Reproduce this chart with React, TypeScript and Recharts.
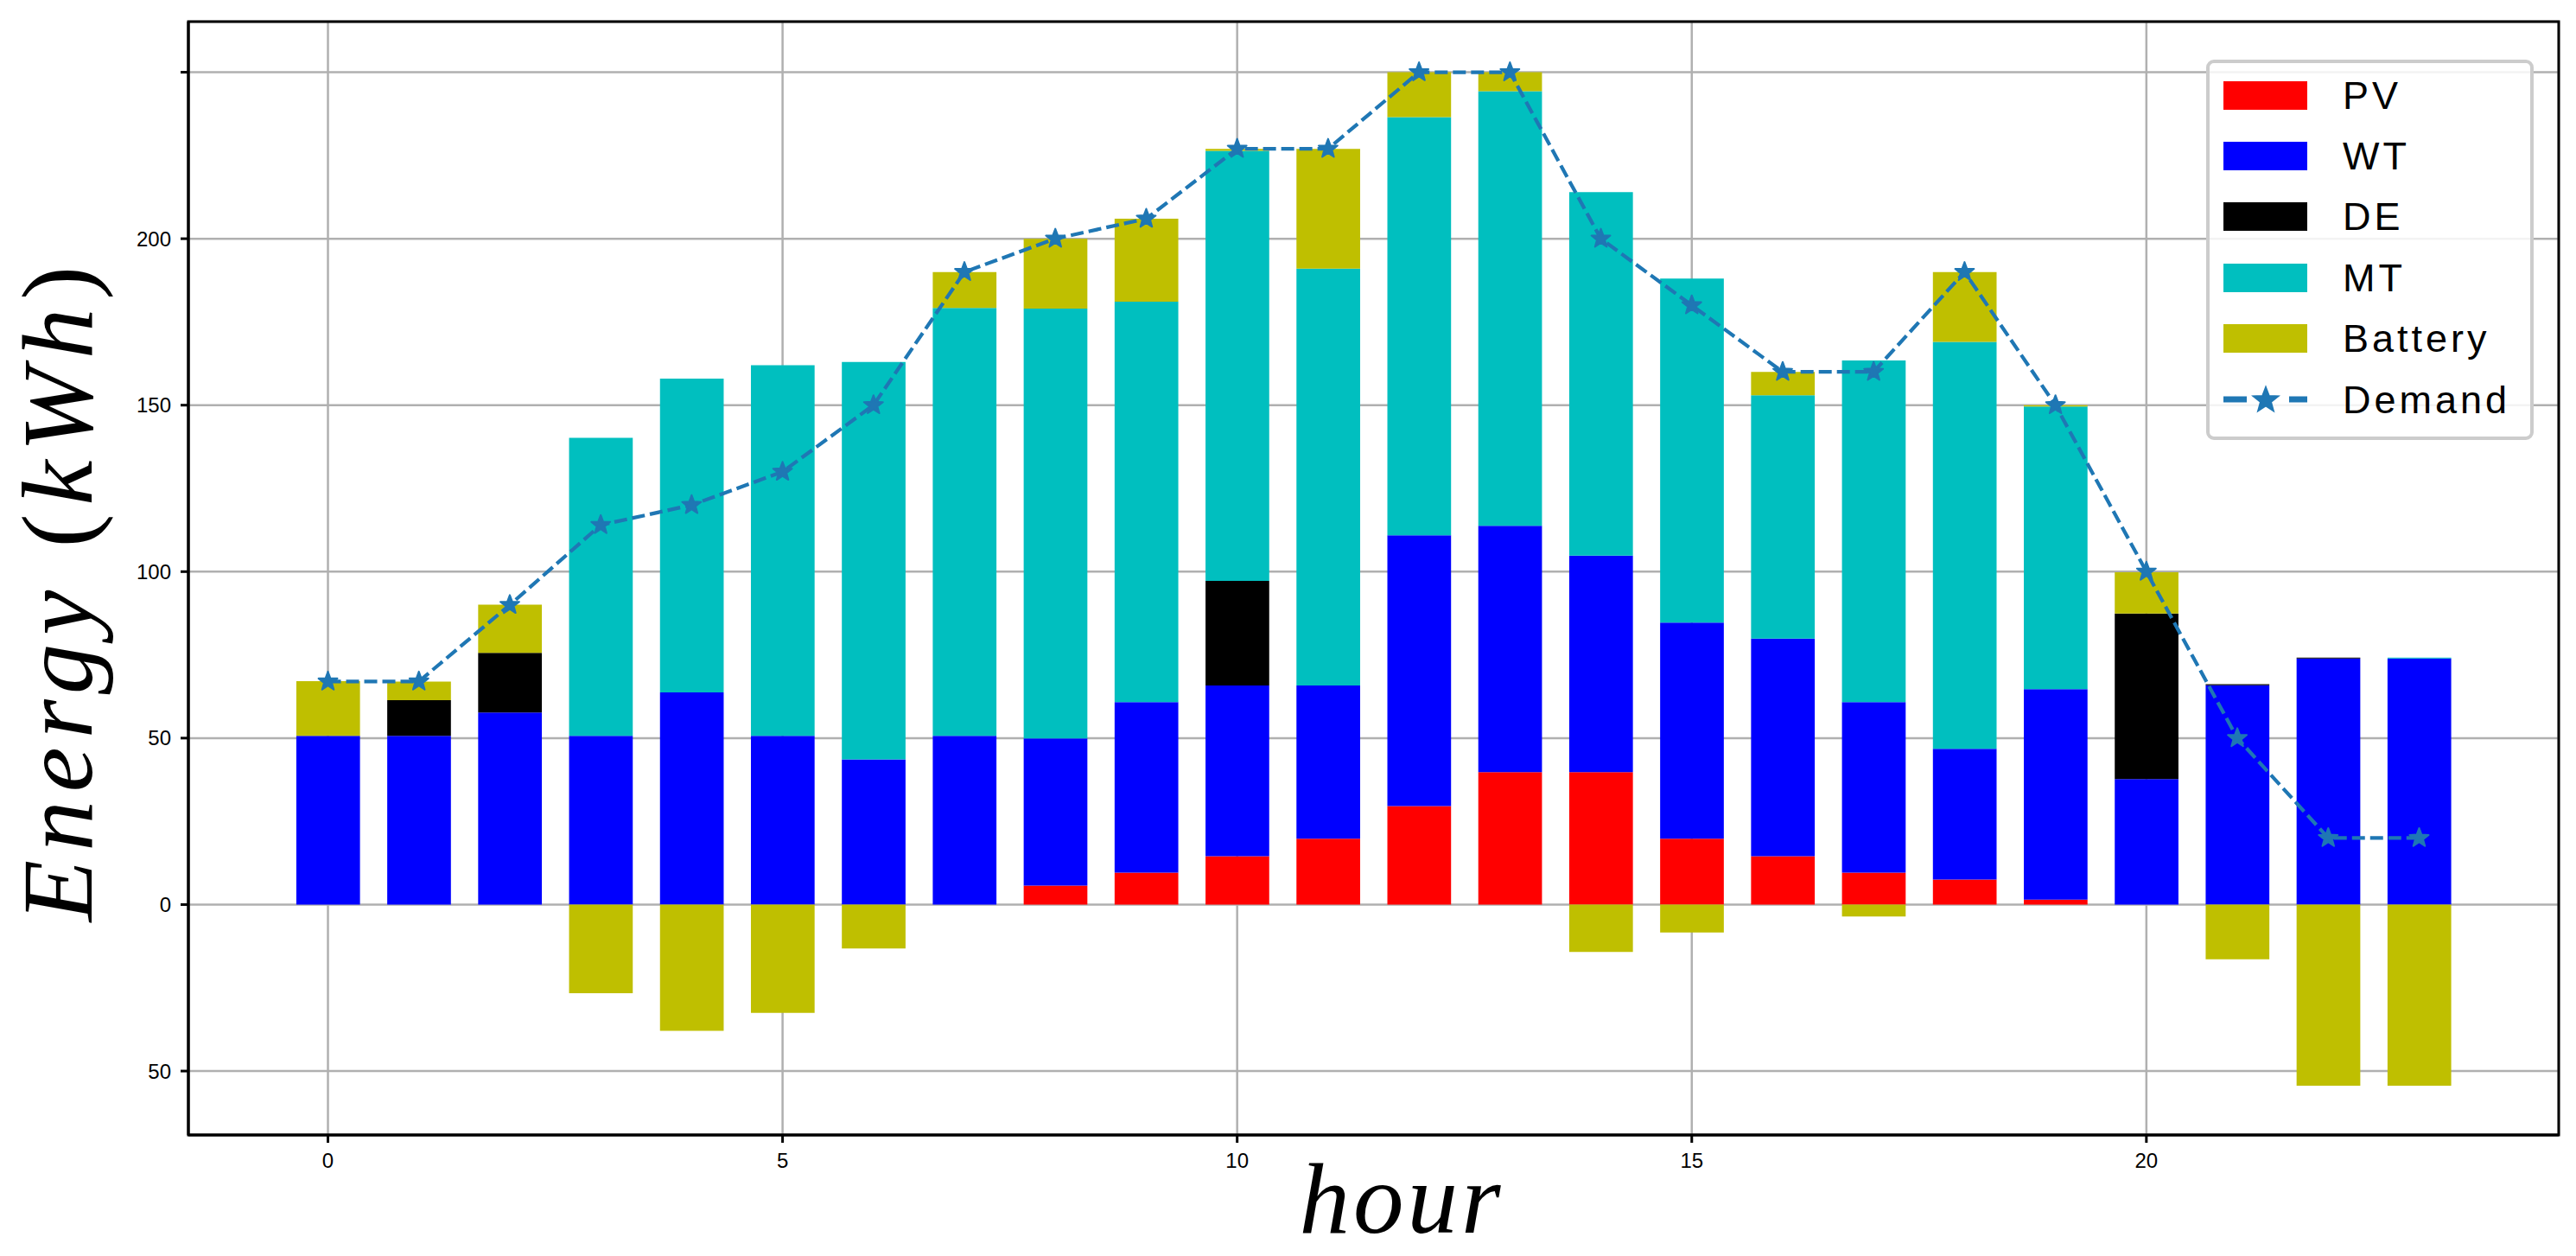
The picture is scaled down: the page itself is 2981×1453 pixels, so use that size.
import React from "react";
import {
  ComposedChart,
  Bar,
  Line,
  XAxis,
  YAxis,
  CartesianGrid,
  Legend,
  ReferenceArea,
} from "recharts";

// hourly energy mix (kWh)
const hours = [0, 1, 2, 3, 4, 5, 6, 7, 8, 9, 10, 11, 12, 13, 14, 15, 16, 17, 18, 19, 20, 21, 22, 23];
const pv = [0, 0, 0, 0, 0, 0, 0, 0, 5.7, 9.6, 14.5, 19.8, 29.6, 39.8, 39.8, 19.8, 14.5, 9.6, 7.5, 1.5, 0, 0, 0, 0];
const wt = [50.7, 50.7, 57.7, 50.7, 63.7, 50.7, 43.6, 50.7, 44.2, 51.2, 51.3, 46, 81.3, 74, 65, 64.9, 65.4, 51.2, 39.3, 63.2, 37.7, 65.9, 73.9, 73.9];
const de = [0, 10.7, 17.9, 0, 0, 0, 0, 0, 0, 0, 31.4, 0, 0, 0, 0, 0, 0, 0, 0, 0, 49.7, 0.3, 0.3, 0];
const mt = [0, 0, 0, 89.5, 94.3, 111.3, 119.4, 128.5, 129.1, 120.3, 129.2, 125.2, 125.6, 130.5, 109.2, 103.3, 73.1, 102.6, 122.2, 84.9, 0, 0, 0, 0.3];
const battery = [16.4, 5.6, 14.5, -26.6, -37.9, -32.5, -13.2, 10.8, 21, 24.9, 0.6, 36, 13.5, 5.7, -14.2, -8.4, 7, -3.6, 21, 0.4, 12.4, -16.4, -54.4, -54.4];
const demand = [67, 67, 90, 114, 120, 130, 150, 190, 200, 206, 227, 227, 250, 250, 200, 180, 160, 160, 190, 150, 100, 50, 20, 20];

const xTicks = [0, 5, 10, 15, 20];
const yTicks = [-50, 0, 50, 100, 150, 200, 250];

const COLORS = {
  PV: "#ff0000",
  WT: "#0000ff",
  DE: "#000000",
  MT: "#00bfbf",
  Battery: "#bfbf00",
  Demand: "#1f77b4",
};

const data = hours.map((h, i) => ({
  hour: h,
  PV: pv[i],
  WT: wt[i],
  DE: de[i],
  MT: mt[i],
  Battery: battery[i],
  Demand: demand[i],
}));

const X_DOMAIN: [number, number] = [-1.535, 24.535];
const Y_DOMAIN: [number, number] = [-69.2, 265.2];

function starPoints(cx: number, cy: number, r: number) {
  const pts: string[] = [];
  for (let k = 0; k < 10; k++) {
    const rr = k % 2 === 0 ? r : r * 0.42;
    const a = -Math.PI / 2 + (k * Math.PI) / 5;
    pts.push(`${cx + rr * Math.cos(a)},${cy + rr * Math.sin(a)}`);
  }
  return pts.join(" ");
}

function StarDot(props: { cx?: number; cy?: number }) {
  const { cx, cy } = props;
  if (cx == null || cy == null) return null;
  return (
    <polygon
      points={starPoints(cx, cy, 11.5)}
      fill={COLORS.Demand}
      stroke={COLORS.Demand}
      strokeWidth={2}
      strokeLinejoin="round"
    />
  );
}

const legendRows = ["PV", "WT", "DE", "MT", "Battery", "Demand"];

function LegendBox() {
  return (
    <div
      style={{
        position: "relative",
        width: 379,
        height: 440,
        boxSizing: "border-box",
        border: "4px solid #cccccc",
        borderRadius: 9,
        background: "rgba(255,255,255,0.85)",
        fontFamily: "'Liberation Sans', Arial, sans-serif",
      }}
    >
      {legendRows.map((name, i) => (
        <div
          key={name}
          style={{
            position: "absolute",
            left: 16,
            top: 37 + i * 70.4 - 25,
            height: 50,
            display: "flex",
            alignItems: "center",
          }}
        >
          {name === "Demand" ? (
            <svg width={97} height={34}>
              <line x1={0} y1={17} x2={27} y2={17} stroke={COLORS.Demand} strokeWidth={7} />
              <line x1={76} y1={17} x2={97} y2={17} stroke={COLORS.Demand} strokeWidth={7} />
              <polygon points={starPoints(49, 18, 15)} fill={COLORS.Demand} stroke={COLORS.Demand} strokeWidth={2} />
            </svg>
          ) : (
            <div style={{ width: 97, height: 33, background: COLORS[name as keyof typeof COLORS] }} />
          )}
          <span
            style={{
              marginLeft: 41,
              fontSize: 45,
              letterSpacing: 4,
              color: "#000",
              lineHeight: 1,
            }}
          >
            {name}
          </span>
        </div>
      ))}
    </div>
  );
}

const renderHourLabel = () => (
  <text
    x={1622}
    y={1426}
    textAnchor="middle"
    fontFamily="'Liberation Serif', 'Times New Roman', serif"
    fontStyle="italic"
    fontSize={117}
    letterSpacing={4}
    fill="#000"
  >
    hour
  </text>
);

const renderEnergyLabel = () => (
  <text
    x={106}
    y={682}
    transform="rotate(-90, 106, 682)"
    textAnchor="middle"
    fontFamily="'Liberation Serif', 'Times New Roman', serif"
    fontStyle="italic"
    fontSize={117}
    letterSpacing={10}
    fill="#000"
  >
    Energy{" "}
    <tspan fontStyle="normal">(</tspan>
    kWh
    <tspan fontStyle="normal">)</tspan>
  </text>
);

const tickStyle = {
  fontSize: 24,
  fill: "#000",
  fontFamily: "'Liberation Sans', Arial, sans-serif",
};

export default function App() {
  return (
    <div style={{ position: "absolute", left: 0, top: 0, width: 2981, height: 1453, background: "#fff" }}>
      <ComposedChart
        width={2981}
        height={1453}
        data={data}
        stackOffset="sign"
        margin={{ top: 25, right: 20, bottom: 80, left: 118 }}
      >
        <XAxis
          dataKey="hour"
          type="number"
          domain={X_DOMAIN}
          ticks={xTicks}
          interval={0}
          allowDataOverflow
          height={60}
          tickSize={9}
          tickMargin={12}
          axisLine={{ stroke: "#000", strokeWidth: 3 }}
          tickLine={{ stroke: "#000", strokeWidth: 3 }}
          tick={tickStyle}
          label={renderHourLabel}
        />
        <YAxis
          type="number"
          domain={Y_DOMAIN}
          ticks={yTicks}
          interval={0}
          allowDataOverflow
          width={100}
          tickSize={9}
          tickMargin={11}
          tickFormatter={(v: number) => (v === 250 ? "" : String(Math.abs(v)))}
          axisLine={{ stroke: "#000", strokeWidth: 3 }}
          tickLine={{ stroke: "#000", strokeWidth: 3 }}
          tick={tickStyle}
          label={renderEnergyLabel}
        />
        <Bar dataKey="PV" stackId="mix" fill={COLORS.PV} barSize={73.7} isAnimationActive={false} />
        <Bar dataKey="WT" stackId="mix" fill={COLORS.WT} barSize={73.7} isAnimationActive={false} />
        <Bar dataKey="DE" stackId="mix" fill={COLORS.DE} barSize={73.7} isAnimationActive={false} />
        <Bar dataKey="MT" stackId="mix" fill={COLORS.MT} barSize={73.7} isAnimationActive={false} />
        <Bar dataKey="Battery" stackId="mix" fill={COLORS.Battery} barSize={73.7} isAnimationActive={false} />
        <CartesianGrid stroke="#b0b0b0" strokeWidth={2.5} />
        <Line
          type="linear"
          dataKey="Demand"
          stroke={COLORS.Demand}
          strokeWidth={4.2}
          strokeDasharray="15 6"
          dot={<StarDot />}
          activeDot={false}
          isAnimationActive={false}
        />
        <ReferenceArea
          x1={X_DOMAIN[0]}
          x2={X_DOMAIN[1]}
          y1={Y_DOMAIN[0]}
          y2={Y_DOMAIN[1]}
          fill="none"
          stroke="#000"
          strokeWidth={3}
          ifOverflow="visible"
        />
        <Legend
          layout="vertical"
          align="center"
          verticalAlign="middle"
          content={() => <LegendBox />}
          wrapperStyle={{ left: 2553, top: 69, width: 379, height: 440 }}
        />
      </ComposedChart>
    </div>
  );
}
